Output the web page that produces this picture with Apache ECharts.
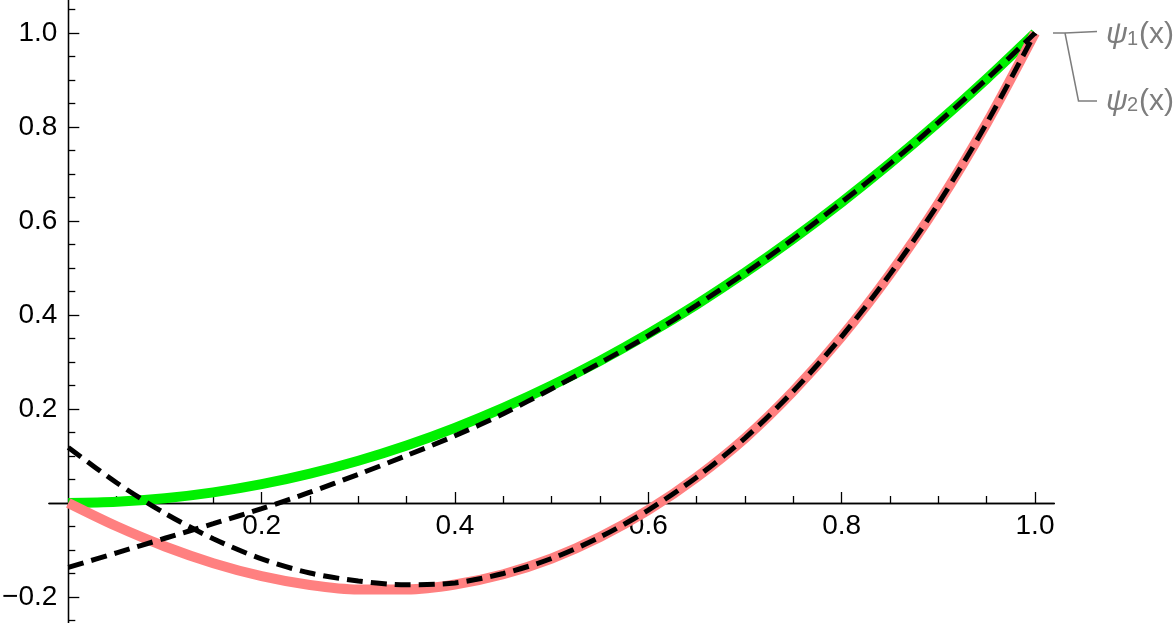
<!DOCTYPE html>
<html>
<head>
<meta charset="utf-8">
<script src="https://cdn.jsdelivr.net/npm/echarts@6/dist/echarts.min.js"></script>
<style>
html,body{margin:0;padding:0;background:#fff;}
#chart{width:1176px;height:623px;}
</style>
</head>
<body>
<div id="chart"></div>
<script>
// ---- data ----
var xs = [0,0.05,0.1,0.15,0.2,0.25,0.3,0.35,0.4,0.45,0.5,0.55,0.6,0.65,0.7,0.75,0.8,0.85,0.9,0.95,1.0];
var psi1 = [0,0.0025,0.01,0.0225,0.04,0.0625,0.09,0.1225,0.16,0.2025,0.25,0.3025,0.36,0.4225,0.49,0.5625,0.64,0.7225,0.81,0.9025,1.0];
var psi2 = [0,-0.0496,-0.0925,-0.128,-0.1556,-0.1745,-0.1842,-0.184,-0.1733,-0.1515,-0.118,-0.0725,-0.015,0.055,0.138,0.238,0.354,0.487,0.637,0.808,1.0];
var approx1 = [-0.137,-0.106,-0.075,-0.044,-0.012,0.023,0.061,0.101,0.143,0.19,0.243,0.298,0.356,0.421,0.489,0.562,0.64,0.722,0.81,0.902,1.0];
var approx2 = [0.118,0.043,-0.022,-0.076,-0.119,-0.149,-0.166,-0.174,-0.170,-0.150,-0.118,-0.0725,-0.015,0.055,0.138,0.238,0.354,0.487,0.637,0.808,1.0];
var xMajorTicks = [0.2,0.4,0.6,0.8,1.0];
var xMinorTicks = [0.05,0.1,0.15,0.25,0.3,0.35,0.45,0.5,0.55,0.65,0.7,0.75,0.85,0.9,0.95];
var yMajorTicks = [-0.2,0.2,0.4,0.6,0.8,1.0];
var yMinorTicks = [-0.25,-0.15,-0.1,-0.05,0.05,0.1,0.15,0.25,0.3,0.35,0.45,0.5,0.55,0.65,0.7,0.75,0.85,0.9,0.95,1.05];
var legendNames = ['1','2'];

function zip(a, b){ return a.map(function(v,i){ return [v, b[i]]; }); }
function fmt(v){ var s = Math.abs(v).toFixed(1); return v < 0 ? '\u2212' + s : s; }

// axis extents
var X_MIN = -0.02, X_MAX = 1.02, Y_MIN = -0.26, Y_MAX = 1.08;
// pixel mapping of the plot
var PX0 = 68.3, PXU = 966.7;   // x = 0 pixel, pixels per unit
var PY0 = 503, PYU = 470;      // y = 0 pixel, pixels per unit
function gx(v){ return PX0 + PXU * v; }
function gy(v){ return PY0 - PYU * v; }

var FONT = "'Liberation Sans', Arial, sans-serif";
var AX = '#000';
var HIDDEN = { show: false };

// grid 0: data; grid 1/2: y axis (left edge at x=0); grid 3/4: x axis (bottom edge at y=0)
var gFull = { left: gx(X_MIN), width: gx(X_MAX) - gx(X_MIN), top: gy(Y_MAX), height: gy(Y_MIN) - gy(Y_MAX), outerBoundsMode: 'none', containLabel: false };
var gY = { left: gx(0), width: gx(X_MAX) - gx(0), top: gy(Y_MAX), height: gy(Y_MIN) - gy(Y_MAX), outerBoundsMode: 'none', containLabel: false };
var gX = { left: gx(X_MIN), width: gx(X_MAX) - gx(X_MIN), top: gy(Y_MAX), height: gy(0) - gy(Y_MAX), outerBoundsMode: 'none', containLabel: false };

function hiddenAxis(idx, min, max){
  return { type: 'value', gridIndex: idx, min: min, max: max, axisLine: HIDDEN, axisTick: HIDDEN, axisLabel: HIDDEN, splitLine: HIDDEN };
}
function shownAxis(idx, min, max, pos, major, ticks, margin){
  return {
    type: 'value', gridIndex: idx, min: min, max: max, position: pos,
    axisLine: { show: true, onZero: false, lineStyle: { color: AX, width: 1.3 } },
    axisTick: { show: true, inside: true, length: major ? 11 : 7, customValues: major ? ticks[0] : ticks[1], lineStyle: { color: AX, width: 1.3 } },
    axisLabel: { show: major, customValues: ticks[0], formatter: fmt, margin: margin, fontSize: 28, color: '#000', fontFamily: FONT },
    splitLine: HIDDEN, minorTick: HIDDEN
  };
}

var GRAY = '#7d7d7d';
var chart = echarts.init(document.getElementById('chart'), null, { renderer: 'canvas' });
chart.setOption({
  animation: false,
  backgroundColor: '#fff',
  grid: [ gFull, gY, gY, gX, gX ],
  xAxis: [
    hiddenAxis(0, X_MIN, X_MAX),
    hiddenAxis(1, 0, X_MAX),
    hiddenAxis(2, 0, X_MAX),
    shownAxis(3, X_MIN, X_MAX, 'bottom', true, [xMajorTicks, xMinorTicks], 9),
    shownAxis(4, X_MIN, X_MAX, 'bottom', false, [xMajorTicks, xMinorTicks], 9)
  ],
  yAxis: [
    hiddenAxis(0, Y_MIN, Y_MAX),
    shownAxis(1, Y_MIN, Y_MAX, 'left', true, [yMajorTicks, yMinorTicks], 11),
    shownAxis(2, Y_MIN, Y_MAX, 'left', false, [yMajorTicks, yMinorTicks], 11),
    hiddenAxis(3, 0, Y_MAX),
    hiddenAxis(4, 0, Y_MAX)
  ],
  series: [
    { name: 'psi1', type: 'line', xAxisIndex: 0, yAxisIndex: 0, data: zip(xs, psi1), smooth: 0.3, symbol: 'none', z: 3, lineStyle: { color: '#00f000', width: 10 } },
    { name: 'psi2', type: 'line', xAxisIndex: 0, yAxisIndex: 0, data: zip(xs, psi2), smooth: 0.3, symbol: 'none', z: 3, lineStyle: { color: '#ff8080', width: 10 } },
    { name: 'approx1', type: 'line', xAxisIndex: 0, yAxisIndex: 0, data: zip(xs, approx1), smooth: 0.3, symbol: 'none', z: 4, lineStyle: { color: '#000', width: 5, type: [16, 8] } },
    { name: 'approx2', type: 'line', xAxisIndex: 0, yAxisIndex: 0, data: zip(xs, approx2), smooth: 0.3, symbol: 'none', z: 4, lineStyle: { color: '#000', width: 5, type: [16, 8] } }
  ],
  graphic: [
    { type: 'polyline', shape: { points: [[1053, 33], [1065, 33], [1097, 31.5]] }, style: { stroke: GRAY, lineWidth: 1.5, fill: null } },
    { type: 'polyline', shape: { points: [[1065, 33], [1078.5, 101], [1097, 101]] }, style: { stroke: GRAY, lineWidth: 1.5, fill: null } },
    { type: 'text', x: 1106, y: 35, style: { text: '\u03c8', font: 'italic 30px ' + FONT, fill: GRAY, verticalAlign: 'middle', align: 'left' } },
    { type: 'text', x: 1127, y: 39, style: { text: legendNames[0], font: '20px ' + FONT, fill: GRAY, verticalAlign: 'middle', align: 'left' } },
    { type: 'text', x: 1139, y: 35, style: { text: '(x)', font: '30px ' + FONT, fill: GRAY, verticalAlign: 'middle', align: 'left' } },
    { type: 'text', x: 1106, y: 101.5, style: { text: '\u03c8', font: 'italic 30px ' + FONT, fill: GRAY, verticalAlign: 'middle', align: 'left' } },
    { type: 'text', x: 1127, y: 105.5, style: { text: legendNames[1], font: '20px ' + FONT, fill: GRAY, verticalAlign: 'middle', align: 'left' } },
    { type: 'text', x: 1139, y: 101.5, style: { text: '(x)', font: '30px ' + FONT, fill: GRAY, verticalAlign: 'middle', align: 'left' } }
  ]
});
</script>
</body>
</html>
